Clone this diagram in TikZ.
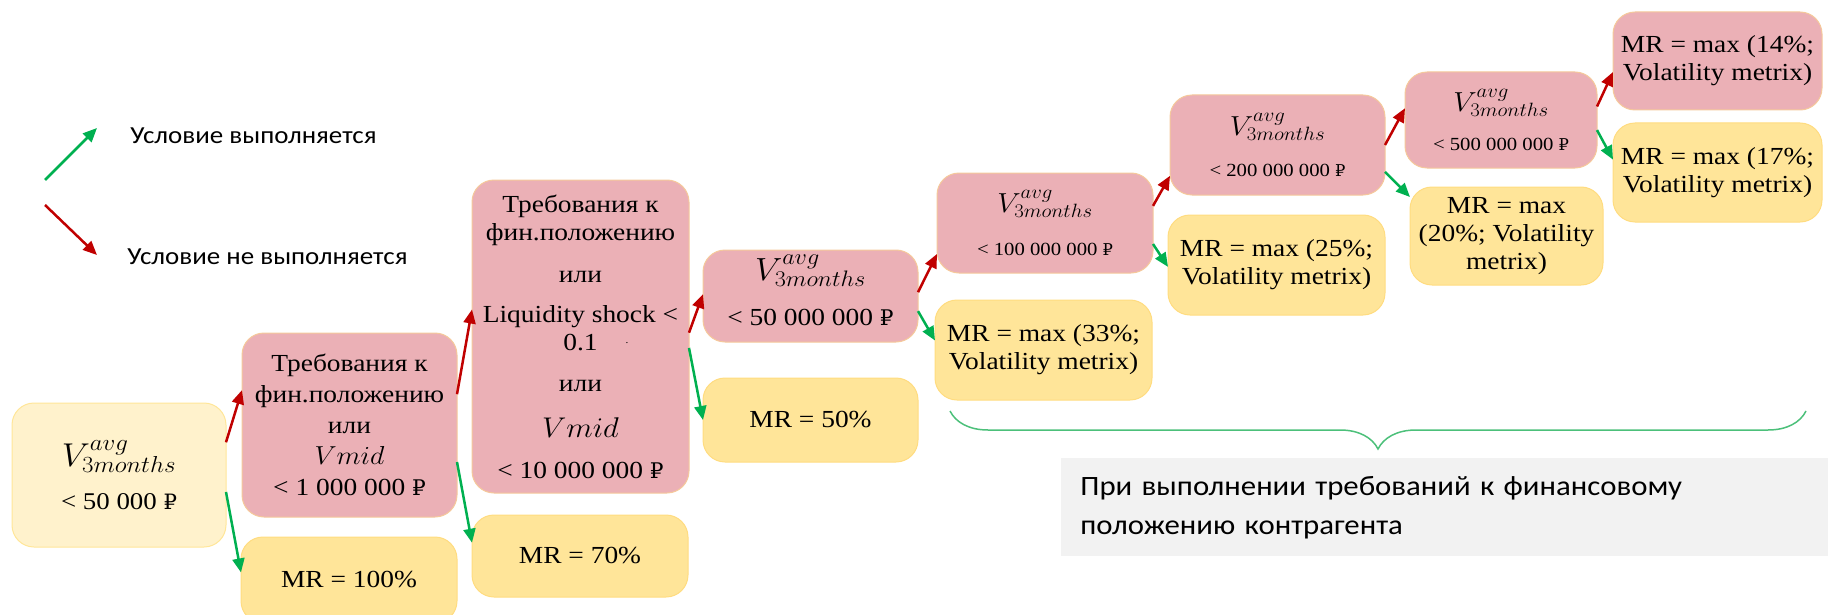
\RequirePackage{fix-cm}
\documentclass[tikz,border=0pt]{standalone}
\usepackage{fontspec}
\usepackage{graphicx}
\setmainfont{Liberation Serif}[FakeStretch=1.12]
\newfontfamily\legendfont{Carlito}[FakeStretch=1.1]
\newfontfamily\rubfont{DejaVu Serif}[Scale=0.88]
\usetikzlibrary{arrows.meta,decorations.pathreplacing}

\definecolor{condpink}{HTML}{EBB0B6}
\definecolor{condline}{HTML}{F5C99B}
\definecolor{rateyellow}{HTML}{FFE599}
\definecolor{rateline}{HTML}{FFDC80}
\definecolor{startyellow}{HTML}{FFF2CC}
\definecolor{startline}{HTML}{FFE699}
\definecolor{passgreen}{HTML}{00B050}
\definecolor{failred}{HTML}{C00000}
\definecolor{notegray}{HTML}{F2F2F2}
\definecolor{bracegreen}{HTML}{4CC07A}

\newcommand{\setfs}[2]{\fontsize{#1}{#2}\selectfont}
\newcommand{\wide}[1]{\scalebox{1.08}[1]{#1}}
\newcommand{\vavg}{\wide{$V^{avg}_{3months}$}}
\newcommand{\vmid}{\wide{$Vmid$}}
\newcommand{\rub}{{\rubfont ₽}}

\begin{document}
\begin{tikzpicture}[x=1pt,y=-1pt,thick,
		cond node/.style={rectangle,rounded corners=22pt,draw=condline,fill=condpink,line width=1pt,
			align=center,inner sep=0pt,outer sep=0pt,font=\setfs{24.5}{28}},
		rate node/.style={cond node,draw=rateline,fill=rateyellow},
		start node/.style={cond node,draw=startline,fill=startyellow},
		pass arrow/.style={draw=passgreen,line width=2.5pt,-{Triangle[length=14pt,width=12pt]}},
		fail arrow/.style={draw=failred,line width=2.5pt,-{Triangle[length=14pt,width=12pt]}},
		legend text/.style={anchor=base west,inner sep=0pt,font=\legendfont\setfs{24.5}{28}}]

		\useasboundingbox (0,0) rectangle (1828,615);
		\clip (0,0) rectangle (1828,615);

		% legend
		\coordinate (passtail) at (45,180);
		\coordinate (passhead) at (97,128);
		\coordinate (failtail) at (45,205);
		\coordinate (failhead) at (97,255);
		\draw[pass arrow] (passtail) -- (passhead);
		\draw[fail arrow] (failtail) -- (failhead);
		\node[legend text] (passlabel) at (130,143) {Условие выполняется};
		\node[legend text] (faillabel) at (127,264) {Условие не выполняется};

		% conditions
		\node[start node,minimum width=214pt,minimum height=144pt] (start) at (119,475)
			{{\setfs{33}{34}\vavg}\\[15pt]{\setfs{24}{30}< 50 000 \rub}};
		\node[cond node,minimum width=215pt,minimum height=184pt,font=\setfs{24.5}{31}] (req1) at (349.5,425)
			{Требования к\\фин.положению\\или\\{\setfs{26}{31}\vmid}\\< 1 000 000 \rub};
		\node[cond node,minimum width=217pt,minimum height=313pt] (req2) at (580.5,336.5)
			{Требования к\\фин.положению\\[14pt]или\\[12pt]Liquidity shock <\\
			0.1\rlap{\hspace{28pt}\raisebox{7pt}{\setfs{10}{10}.}}\\[13pt]или\\[18pt]{\setfs{28.5}{31}\vmid}\\[13pt]< 10 000 000 \rub};
		\node[cond node,minimum width=215pt,minimum height=92pt] (vol50) at (810.5,296)
			{{\setfs{32}{33}\vavg}\\[17pt]{\setfs{24.5}{30}< 50 000 000 \rub\rule[-12pt]{0pt}{1pt}}};
		\node[cond node,minimum width=216pt,minimum height=100pt] (vol100) at (1045,223)
			{{\setfs{27.5}{28}\vavg}\\[15pt]{\setfs{18.5}{24}< 100 000 000 \rub}};
		\node[cond node,minimum width=215pt,minimum height=100pt] (vol200) at (1277.5,145)
			{{\setfs{27.5}{28}\vavg}\\[13pt]{\setfs{18.5}{24}< 200 000 000 \rub}};
		\node[cond node,minimum width=192pt,minimum height=96pt] (vol500) at (1501,120)
			{{\setfs{27.5}{28}\vavg}\\[11pt]{\setfs{18.5}{24}< 500 000 000 \rub}};
		\node[cond node,minimum width=209pt,minimum height=98pt] (mr14) at (1717.5,61)
			{MR = max (14\%;\\Volatility metrix)};

		% rates
		\node[rate node,minimum width=216pt,minimum height=86pt] (mr100) at (349,580) {MR = 100\%};
		\node[rate node,minimum width=216pt,minimum height=82pt] (mr70) at (580,556) {MR = 70\%};
		\node[rate node,minimum width=215pt,minimum height=84pt] (mr50) at (810.5,420) {MR = 50\%};
		\node[rate node,minimum width=217pt,minimum height=100pt] (mr33) at (1043.5,350)
			{MR = max (33\%;\\Volatility metrix)};
		\node[rate node,minimum width=217pt,minimum height=100pt] (mr25) at (1276.5,265)
			{MR = max (25\%;\\Volatility metrix)};
		\node[rate node,minimum width=193pt,minimum height=98pt] (mr20) at (1506.5,236)
			{MR = max\\(20\%; Volatility\\metrix)};
		\node[rate node,minimum width=209pt,minimum height=99pt] (mr17) at (1717.5,172.5)
			{MR = max (17\%;\\Volatility metrix)};

		\path
		(start.17) edge[fail arrow] (req1.162)
		(start.-9) edge[pass arrow] (mr100.176)
		(req1.16) edge[fail arrow] (req2.166)
		(req1.-19) edge[pass arrow] (mr70.173)
		(req2.2) edge[fail arrow] (vol50.179)
		(req2.-6) edge[pass arrow] (mr50.180)
		(vol50.2) edge[fail arrow] (vol100.196)
		(vol50.-8) edge[pass arrow] (mr33.175)
		(vol100.9) edge[fail arrow] (vol200.196)
		(vol100.-11) edge[pass arrow] (mr25.181)
		(vol200.0) edge[fail arrow] (vol500.173)
		(vol200.-14) edge[pass arrow] (mr20.158)
		(vol500.8) edge[fail arrow] (mr14.186)
		(vol500.-6) edge[pass arrow] (mr17.173);

		% brace and note
		\draw[bracegreen,line width=1.5pt,decorate,decoration={brace,mirror,amplitude=38pt}]
			(950,411) -- (1806,411);
		\node[anchor=north west,fill=notegray,minimum width=767pt,minimum height=98pt,inner xsep=19pt,inner ysep=0pt,
			text width=729pt,align=left,font=\legendfont\setfs{28}{39}] (note) at (1061,458)
			{При выполнении требований к финансовому\\положению контрагента};
	\end{tikzpicture}
\end{document}
